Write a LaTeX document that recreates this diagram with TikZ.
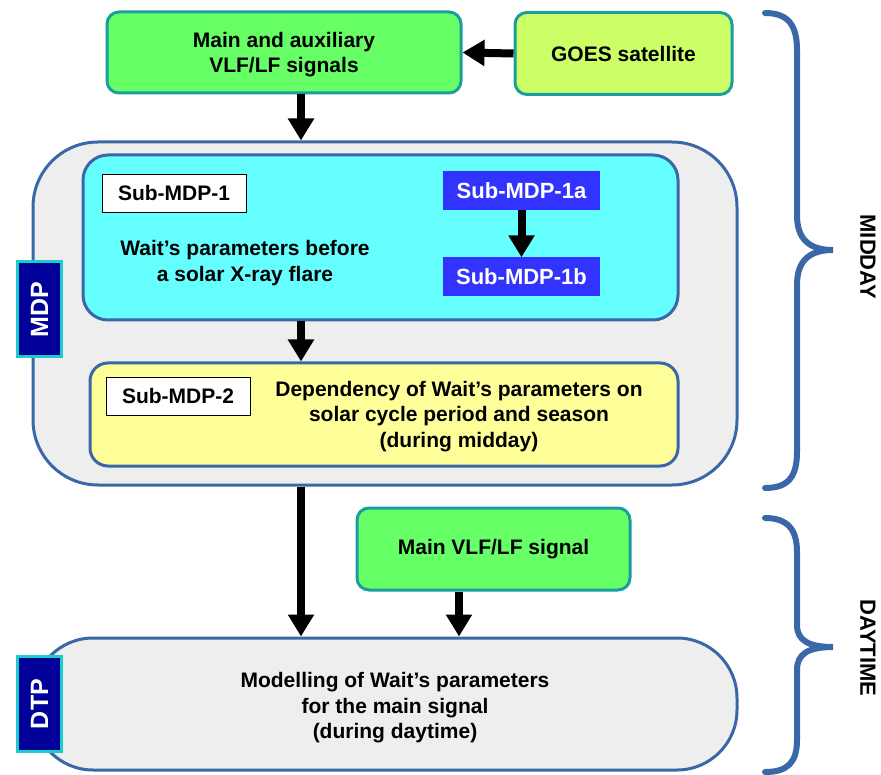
\documentclass[tikz,border=0pt]{standalone}
\usepackage{fontspec}
\setmainfont{Liberation Sans}
\usetikzlibrary{arrows.meta}

\definecolor{sigfill}{HTML}{66FF66}
\definecolor{sigline}{HTML}{1A9E9E}
\definecolor{goesfill}{HTML}{CCFF66}
\definecolor{stagefill}{HTML}{EEEEEE}
\definecolor{stageline}{HTML}{3A67A8}
\definecolor{flarefill}{HTML}{66FFFF}
\definecolor{seasonfill}{HTML}{FFFF99}
\definecolor{subfill}{HTML}{3333FF}
\definecolor{tagfill}{HTML}{000099}
\definecolor{tagline}{HTML}{1ACCCC}

\begin{document}
\begin{tikzpicture}[
  x=1pt, y=-1pt,
  every node/.style={font=\bfseries\fontsize{21}{25.5}\selectfont, align=center, inner sep=0pt},
  sigbox/.style={draw=sigline, line width=3pt, fill=sigfill, rounded corners=12pt},
  stagebox/.style={draw=stageline, line width=3pt, fill=stagefill},
  namebox/.style={draw=black, line width=0.8pt, fill=white, minimum width=144pt, minimum height=38pt},
  subbox/.style={fill=subfill, text=white, minimum width=157pt, minimum height=39pt,
    font=\bfseries\fontsize{22}{26}\selectfont},
  tagbox/.style={draw=tagline, line width=3pt, fill=tagfill, text=white, rotate=90,
    minimum width=95pt, minimum height=44pt, font=\bfseries\fontsize{25}{28}\selectfont},
  sidetext/.style={rotate=-90, font=\bfseries\fontsize{22}{26}\selectfont},
  fatarrow/.style={line width=8pt, -{Triangle[width=25pt,length=22pt]}},
  bracepath/.style={draw=stageline, line width=6pt, line cap=round}
]
  % 画布大小
  \useasboundingbox (0,0) rectangle (881,775);

  % 输入信号
  \node[sigbox, minimum width=354pt, minimum height=81pt, text depth=-4pt] (vlf) at (284,52.5) {Main and auxiliary\\VLF/LF signals};
  \node[sigbox, fill=goesfill, minimum width=217pt, minimum height=82pt] (goes) at (623.5,53.5) {GOES satellite};

  % MDP 大框
  \node[stagebox, rounded corners=65pt, minimum width=704pt, minimum height=343pt] (mdp) at (385,313.5) {};
  \node[tagbox] (mdptag) at (39.5,309.5) {MDP};

  % Sub-MDP-1
  \node[stagebox, fill=flarefill, rounded corners=25pt, minimum width=595pt, minimum height=165pt] (flare) at (380.5,237.5) {};
  \node[namebox] (sub1) at (174,193) {Sub-MDP-1};
  \node (flaretxt) at (245,263) {Wait's parameters before\\a solar X-ray flare};
  \node[subbox] (sub1a) at (521.5,190.5) {Sub-MDP-1a};
  \node[subbox] (sub1b) at (521.5,277) {Sub-MDP-1b};

  % Sub-MDP-2
  \node[stagebox, fill=seasonfill, rounded corners=18pt, minimum width=588pt, minimum height=103pt] (season) at (384,414.5) {};
  \node[namebox] (sub2) at (178,396) {Sub-MDP-2};
  \node (seasontxt) at (459,416.5) {Dependency of Wait's parameters on\\solar cycle period and season\\(during midday)};

  % DTP
  \node[sigbox, minimum width=273pt, minimum height=82pt] (mainsig) at (493.5,549) {Main VLF/LF signal};
  \node[stagebox, rounded corners=60pt, minimum width=704pt, minimum height=132pt] (dtp) at (385,704) {};
  \node (dtptxt) at (395,708) {Modelling of Wait's parameters\\for the main signal\\(during daytime)};
  \node[tagbox] (dtptag) at (39.5,704) {DTP};

  % 箭头
  \coordinate (spine) at (301,0);
  \coordinate (drop) at (459,0);
  \draw[fatarrow] (goes.west) -- (vlf.east);
  \draw[fatarrow] (vlf.south -| spine) -- (mdp.north -| spine);
  \draw[fatarrow] (sub1a.south) -- (sub1b.north);
  \draw[fatarrow] (flare.south -| spine) -- (season.north -| spine);
  \draw[fatarrow] (mdp.south -| spine) -- (dtp.north -| spine);
  \draw[fatarrow] (mainsig.south -| drop) -- (dtp.north -| drop);

  % 右侧花括号
  \draw[bracepath] (765,13) .. controls (788,13) and (797,25) .. (797,50) -- (797,215)
    .. controls (797,238) and (808,250) .. (833,250) .. controls (808,250) and (797,262) .. (797,285)
    -- (797,452) .. controls (797,477) and (788,488) .. (765,488);
  \node[sidetext] (midday) at (868,257) {MIDDAY};
  \draw[bracepath] (765,518) .. controls (788,518) and (797,530) .. (797,552) -- (797,625)
    .. controls (797,640) and (808,647) .. (833,647) .. controls (808,647) and (797,654) .. (797,670)
    -- (797,740) .. controls (797,762) and (788,772) .. (765,772);
  \node[sidetext] (daytime) at (868,648) {DAYTIME};
\end{tikzpicture}
\end{document}
